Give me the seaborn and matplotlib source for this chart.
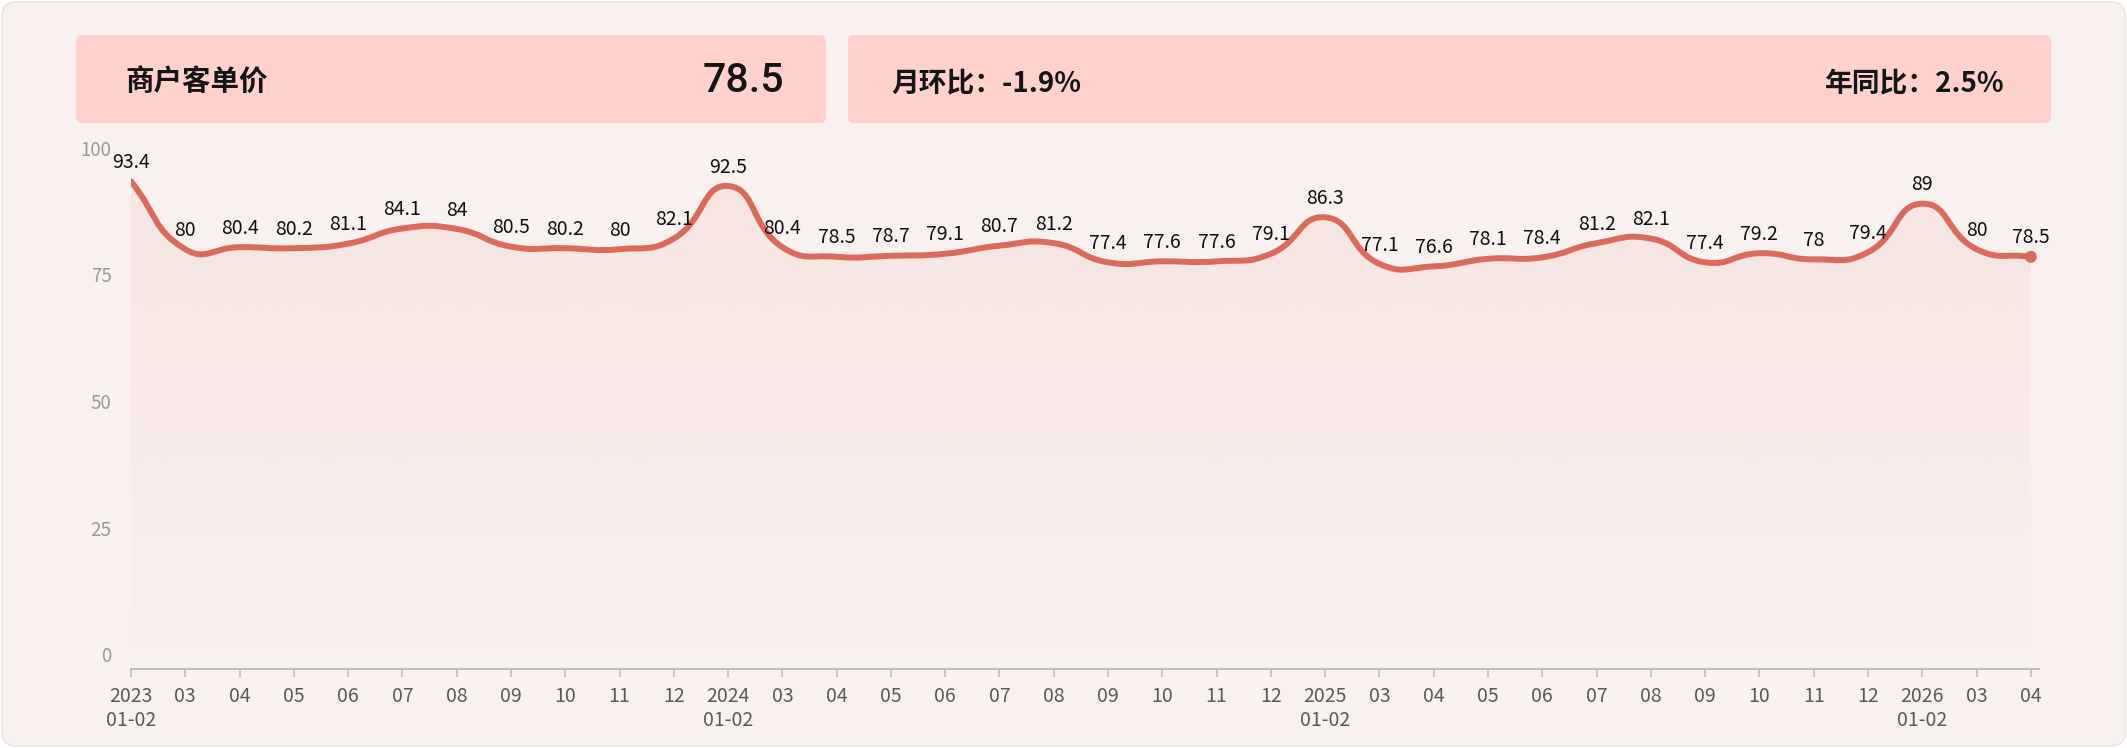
import numpy as np
import pandas as pd
import seaborn as sns
import matplotlib
matplotlib.use("Agg")
import matplotlib.pyplot as plt
from matplotlib.path import Path
from matplotlib.patches import PathPatch, FancyBboxPatch

# ---------------- data ----------------
month_labels = [
    "2023\n01-02", "03", "04", "05", "06", "07", "08", "09", "10", "11", "12",
    "2024\n01-02", "03", "04", "05", "06", "07", "08", "09", "10", "11", "12",
    "2025\n01-02", "03", "04", "05", "06", "07", "08", "09", "10", "11", "12",
    "2026\n01-02", "03", "04",
]
values = [
    93.4, 80, 80.4, 80.2, 81.1, 84.1, 84, 80.5, 80.2, 80, 82.1,
    92.5, 80.4, 78.5, 78.7, 79.1, 80.7, 81.2, 77.4, 77.6, 77.6, 79.1,
    86.3, 77.1, 76.6, 78.1, 78.4, 81.2, 82.1, 77.4, 79.2, 78, 79.4,
    89, 80, 78.5,
]
y_ticks = [0, 25, 50, 75, 100]
card_title = "商户客单价"
card_value = "78.5"
mom_text = "月环比：-1.9%"
yoy_text = "年同比：2.5%"

df = pd.DataFrame({"idx": np.arange(len(values)), "label": month_labels, "value": values})

# ---------------- style ----------------
sns.set_theme(style="white")
plt.rcParams["font.family"] = ["Noto Sans CJK SC", "DejaVu Sans"]

LINE = "#dc6a5a"
BG = "#f9f1ef"
CARD = "#ffd0cc"

W, H = 2127, 748
fig = plt.figure(figsize=(W / 100, H / 100), dpi=100)
fig.patch.set_facecolor("white")

def px_box(x0, y0top, x1, y1bot, **kw):
    return FancyBboxPatch((x0 / 100, (H - y1bot) / 100), (x1 - x0) / 100, (y1bot - y0top) / 100,
                          transform=fig.dpi_scale_trans, zorder=-5, **kw)

fig.patches.append(px_box(2, 2, W - 2, H - 2, boxstyle="round,pad=0,rounding_size=0.14",
                          facecolor=BG, edgecolor="#eee4e2", linewidth=1.2))
fig.patches.append(px_box(76, 35, 826, 123, boxstyle="round,pad=0,rounding_size=0.06",
                          facecolor=CARD, edgecolor="none"))
fig.patches.append(px_box(848, 35, 2051, 123, boxstyle="round,pad=0,rounding_size=0.06",
                          facecolor=CARD, edgecolor="none"))

def px_text(x, y, s, **kw):
    fig.text(x / 100, (H - y) / 100, s, transform=fig.dpi_scale_trans, **kw)

px_text(125, 83, card_title, fontsize=20.5, fontweight="bold", color="#151515", ha="left", va="center")
px_text(784, 81, card_value, fontsize=29.5, fontweight="medium", color="#151515", ha="right",
        va="center", family=["Roboto", "Noto Sans CJK SC", "DejaVu Sans"])
px_text(891, 84, mom_text, fontsize=20, fontweight="bold", color="#151515", ha="left", va="center")
px_text(2005, 84, yoy_text, fontsize=20, fontweight="bold", color="#151515", ha="right", va="center")

# ---------------- main axes ----------------
left_px, right_px, top_px, bot_px = 131, 2039, 148, 654
axis_offset_px = 15
ax = fig.add_axes([left_px / W, (H - bot_px) / H, (right_px - left_px) / W, (bot_px - top_px) / H])
ax.set_facecolor("none")
n = len(values)
xmax = (n - 1) * 1.0043
ax.set_xlim(0, xmax)
ax.set_ylim(0, 100)

# smooth curve (ECharts-like bezier) computed in display space
fig.canvas.draw()
pts = np.column_stack([df["idx"].values, df["value"].values]).astype(float)
disp = ax.transData.transform(pts)
smooth = 0.5
verts = [disp[0]]
codes = [Path.MOVETO]
cps_next, cps_prev = [], []
for i in range(n):
    p = disp[i]
    prev = disp[i - 1] if i > 0 else p
    nxt = disp[i + 1] if i < n - 1 else p
    v = nxt - prev
    d0 = np.hypot(*(p - prev))
    d1 = np.hypot(*(nxt - p))
    r = d1 / (d0 + d1) if (d0 + d1) > 0 else 0.5
    cps_next.append(p + v * smooth * r)
    cps_prev.append(p - v * smooth * (1 - r))
for i in range(n - 1):
    verts += [cps_next[i], cps_prev[i + 1], disp[i + 1]]
    codes += [Path.CURVE4] * 3
inv = ax.transData.inverted()
verts_data = inv.transform(np.array(verts))
curve = Path(verts_data, codes)

# area under curve with gradient (strong near top, fading downward)
area_verts = np.vstack([verts_data, [[pts[-1, 0], 0], [pts[0, 0], 0], verts_data[0]]])
area_codes = codes + [Path.LINETO, Path.LINETO, Path.CLOSEPOLY]
area_patch = PathPatch(Path(area_verts, area_codes), facecolor="none", edgecolor="none",
                       transform=ax.transData)
ax.add_patch(area_patch)
grad = np.zeros((256, 1, 4))
grad[..., :3] = np.array([240, 196, 190]) / 255
grad[:, 0, 3] = np.linspace(0.30, 0.0, 256)
im = ax.imshow(grad, extent=[pts[0, 0], pts[-1, 0], 0, 100], aspect="auto", zorder=1,
               interpolation="bilinear", origin="upper")
im.set_clip_path(area_patch)

ax.add_patch(PathPatch(curve, facecolor="none", edgecolor=LINE, linewidth=4.3,
                       capstyle="round", joinstyle="round", zorder=3, transform=ax.transData))

# last point marker
sns.scatterplot(data=df.iloc[[-1]], x="idx", y="value", ax=ax, color=LINE, s=75,
                edgecolor="none", zorder=4, legend=False)

# data labels
for i, v in zip(df["idx"], df["value"]):
    ax.annotate(f"{v:g}", (i, v), xytext=(0, 6), textcoords="offset points",
                ha="center", va="bottom", fontsize=14, color="#111111", zorder=5)

ax.set_xlim(0, xmax)
ax.set_ylim(0, 100)
ax.set_xticks(df["idx"])
ax.set_xticklabels(df["label"])
ax.set_yticks(y_ticks)
ax.set_yticklabels([str(t) for t in y_ticks])
ax.set_xlabel("")
ax.set_ylabel("")
ax.grid(False)
for s in ["top", "right", "left"]:
    ax.spines[s].set_visible(False)
ax.spines["bottom"].set_position(("outward", axis_offset_px * 0.72))
ax.spines["bottom"].set_color("#bdbdbd")
ax.spines["bottom"].set_linewidth(1.4)
ax.tick_params(axis="x", colors="#bdbdbd", length=6, width=1.2, direction="out", pad=6,
               labelcolor="#5a5a5a", labelsize=14, bottom=True)
ax.tick_params(axis="y", length=0, pad=14, labelcolor="#999999", labelsize=13.5)

fig.savefig("out.png", dpi=100, facecolor=fig.get_facecolor())
